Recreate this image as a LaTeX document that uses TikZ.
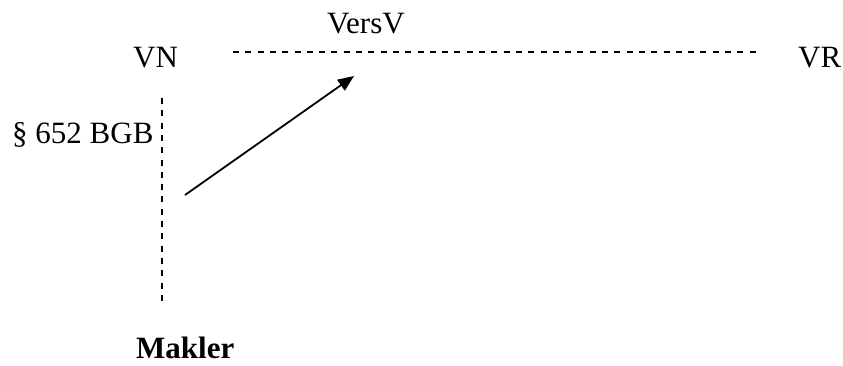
\documentclass[tikz,border=0pt]{standalone}
\usepackage{fontspec}
\setmainfont{Liberation Serif}
\usetikzlibrary{arrows.meta}
\begin{document}
\begin{tikzpicture}[x=1pt,y=-1pt,
  lbl/.style={inner sep=0pt,anchor=base west,font=\fontsize{31}{36}\selectfont},
  dline/.style={line width=1.8pt,dash pattern=on 6pt off 6.3pt},
  arr/.style={line width=1.8pt,-{Triangle[length=16pt,width=13pt]}}]
\useasboundingbox (0,0) rectangle (843,365);
\node[lbl] (versv) at (327,33) {VersV};
\node[lbl] (vn) at (133,67) {VN};
\node[lbl] (vr) at (798,67) {VR};
\node[lbl] (bgb) at (12,143) {§ 652 BGB};
\node[lbl,font=\fontsize{31}{36}\selectfont\bfseries] (makler) at (136,358) {Makler};
\coordinate (hl) at (233,52);
\coordinate (hr) at (758,52);
\coordinate (vt) at (162,98);
\coordinate (vb) at (162,302);
\coordinate (as) at (185,195);
\coordinate (ae) at (354,76);
\draw[dline] (hl) -- (hr);
\draw[dline] (vt) -- (vb);
\draw[arr] (as) -- (ae);
\end{tikzpicture}
\end{document}
